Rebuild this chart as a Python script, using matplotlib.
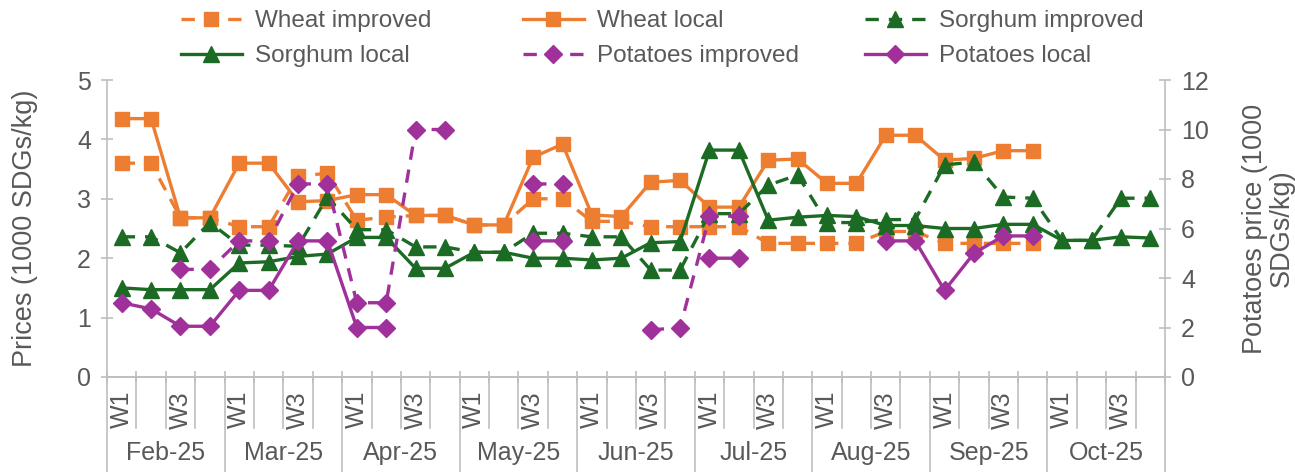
import numpy as np
import matplotlib
matplotlib.use("Agg")
import matplotlib.pyplot as plt
from matplotlib.lines import Line2D

plt.rcParams['font.family'] = ['Liberation Sans', 'DejaVu Sans']

months = ["Feb-25", "Mar-25", "Apr-25", "May-25", "Jun-25", "Jul-25", "Aug-25", "Sep-25", "Oct-25"]
weeks = ["W1", "W2", "W3", "W4"]
week_labels = ["W1", "", "W3", ""]
nan = np.nan

wheat_improved = [3.6, 3.6, 2.68, 2.68, 2.53, 2.53, 3.38, 3.43, 2.64, 2.69, 2.72, 2.72,
                  2.56, 2.56, 3.0, 3.0, 2.62, 2.62, 2.53, 2.53, 2.53, 2.53, 2.25, 2.25,
                  2.25, 2.25, 2.45, 2.45, 2.25, 2.25, 2.25, 2.25, nan, nan, nan, nan]
wheat_local = [4.35, 4.35, 2.68, 2.68, 3.6, 3.6, 2.95, 2.97, 3.07, 3.07, 2.72, 2.72,
               2.56, 2.56, 3.7, 3.92, 2.73, 2.7, 3.28, 3.31, 2.86, 2.86, 3.65, 3.67,
               3.26, 3.26, 4.07, 4.07, 3.65, 3.68, 3.81, 3.81, nan, nan, nan, nan]
sorghum_improved = [2.36, 2.36, 2.09, 2.6, 2.22, 2.22, 2.2, 3.03, 2.48, 2.48, 2.19, 2.19,
                    2.1, 2.1, 2.42, 2.42, 2.36, 2.36, 1.8, 1.8, 2.75, 2.75, 3.23, 3.4,
                    2.6, 2.6, 2.65, 2.65, 3.57, 3.62, 3.03, 3.01, 2.3, 2.3, 3.01, 3.01]
sorghum_local = [1.5, 1.47, 1.47, 1.47, 1.92, 1.94, 2.03, 2.07, 2.35, 2.35, 1.83, 1.83,
                 2.1, 2.1, 2.0, 2.0, 1.97, 2.0, 2.26, 2.28, 3.82, 3.82, 2.64, 2.69,
                 2.72, 2.7, 2.55, 2.55, 2.5, 2.5, 2.57, 2.57, 2.3, 2.3, 2.36, 2.34]
potatoes_improved = [nan, nan, 4.35, 4.35, 5.5, 5.5, 7.8, 7.8, 3.0, 3.0, 10.0, 10.0,
                     nan, nan, 7.8, 7.8, nan, nan, 1.9, 2.0, 6.5, 6.5, nan, nan,
                     nan, nan, nan, nan, nan, nan, nan, nan, nan, nan, nan, nan]
potatoes_local = [3.0, 2.75, 2.05, 2.05, 3.5, 3.5, 5.5, 5.5, 2.0, 2.0, nan, nan,
                  nan, nan, 5.5, 5.5, nan, nan, nan, nan, 4.8, 4.8, nan, nan,
                  nan, nan, 5.5, 5.5, 3.5, 5.0, 5.7, 5.7, nan, nan, nan, nan]

ORANGE = '#ED7D31'
GREEN = '#1C6B24'
PURPLE = '#A0309A'
GRAY = '#595959'
LGRAY = '#BFBFBF'
FS = 18
LFS = 17.5

fig = plt.figure(figsize=(12.95, 4.72), dpi=100)
ax = fig.add_axes([107/1295, 95/472, 1058/1295, 297/472])
ax2 = ax.twinx()

n = len(months) * len(weeks)
x = np.arange(n)
lw = 2.4
dash = (0, (4, 3))

def seg_plot(a, vals, color, marker, ls, ms):
    y = np.array(vals, dtype=float)
    a.plot(x, y, color=color, lw=lw, ls=ls, marker=marker, ms=ms, mec=color, mfc=color,
           clip_on=False, zorder=3)

seg_plot(ax, wheat_improved, ORANGE, 's', dash, 10)
seg_plot(ax, wheat_local, ORANGE, 's', '-', 10)
seg_plot(ax, sorghum_improved, GREEN, '^', dash, 11)
seg_plot(ax, sorghum_local, GREEN, '^', '-', 11)
seg_plot(ax2, potatoes_improved, PURPLE, 'D', dash, 9)
seg_plot(ax2, potatoes_local, PURPLE, 'D', '-', 9)

ax.set_xlim(-0.5, n - 0.5)
ax.set_ylim(0, 5)
ax2.set_ylim(0, 12)
ax.set_yticks(np.arange(0, 6, 1))
ax2.set_yticks(np.arange(0, 13, 2))

for a in (ax, ax2):
    for s in a.spines.values():
        s.set_color(LGRAY)
        s.set_linewidth(1.2)
    a.spines['top'].set_visible(False)
    a.tick_params(axis='y', colors=LGRAY, labelcolor=GRAY, labelsize=FS,
                  direction='inout', length=9, width=1.2)
ax.spines['right'].set_visible(False)
ax2.spines['left'].set_visible(False)
ax.tick_params(axis='y', pad=7)
ax2.tick_params(axis='y', pad=7)

ax.set_xticks(np.arange(-0.5, n, 1))
ax.tick_params(axis='x', colors=LGRAY, labelbottom=False, direction='inout', length=8, width=1.2)

tr = ax.get_xaxis_transform()
H = 297.0
for k in range(n + 1):
    bottom = -95 / H if k % 4 == 0 else -51 / H
    ax.plot([k - 0.5, k - 0.5], [0, bottom], color=LGRAY, lw=1.2, transform=tr, clip_on=False)
for i in range(n):
    lab = week_labels[i % 4]
    if lab:
        ax.text(i, -14 / H, lab, transform=tr, rotation=90, ha='center', va='top',
                fontsize=FS, color=GRAY)
for m, mon in enumerate(months):
    ax.text(m * 4 + 1.5, -76 / H, mon, transform=tr, ha='center', va='center',
            fontsize=FS, color=GRAY)

ax.set_ylabel("Prices (1000 SDGs/kg)", fontsize=19.5, color=GRAY, labelpad=28)
ax2.set_ylabel("Potatoes price (1000\nSDGs/kg)", fontsize=19.5, color=GRAY, labelpad=24,
               linespacing=1.05)

def mk(color, ls, marker, ms):
    return Line2D([], [], color=color, lw=lw, ls=ls, marker=marker, ms=ms, mec=color, mfc=color)

legend_cols = [
    ([mk(ORANGE, dash, 's', 10), mk(GREEN, '-', '^', 11)], ["Wheat improved", "Sorghum local"], 181),
    ([mk(ORANGE, '-', 's', 10), mk(PURPLE, dash, 'D', 9)], ["Wheat local", "Potatoes improved"], 523),
    ([mk(GREEN, dash, '^', 11), mk(PURPLE, '-', 'D', 9)], ["Sorghum improved", "Potatoes local"], 865),
]
for hs, ls_, x0 in legend_cols:
    leg = fig.legend(hs, ls_, loc='upper left', bbox_to_anchor=(x0 / 1295, 1 - 10 / 472),
                     frameon=False, fontsize=LFS, handlelength=2.5, handletextpad=0.55,
                     labelspacing=0.55, borderpad=0, borderaxespad=0)
    for t in leg.get_texts():
        t.set_color(GRAY)

fig.savefig("out.png", dpi=100)
